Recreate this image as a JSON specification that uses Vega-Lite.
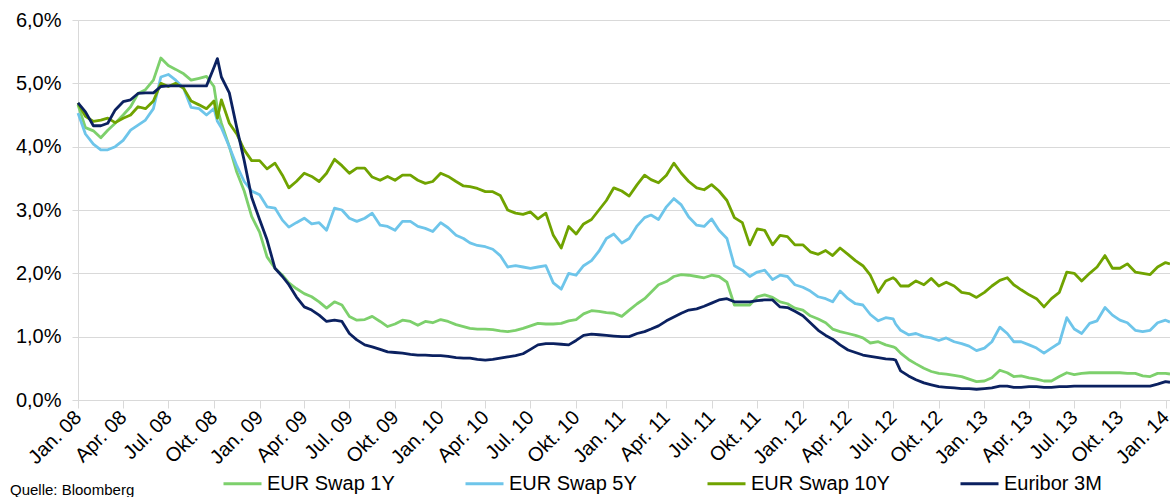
{
"$schema": "https://vega.github.io/schema/vega-lite/v6.json",
"width": 1092, "height": 380,
"autosize": {"type": "none"},
"padding": {"left": 78, "top": 20, "right": 0, "bottom": 97},
"background": "white",
"config": {"view": {"stroke": null}, "font": "Liberation Sans"},
"title": {"text": "Quelle:  Bloomberg", "orient": "bottom", "anchor": "start", "frame": "group", "dx": -68, "dy": -11, "offset": 0, "fontSize": 15, "fontWeight": "normal", "color": "#000000", "font": "Liberation Sans"},
"data": {"values": [
{"d":"2008-01-01","s1":4.66,"s5":4.53,"s10":4.69,"e3":4.69},
{"d":"2008-01-16","s1":4.30,"s5":4.20,"s10":4.48,"e3":4.55},
{"d":"2008-02-01","s1":4.25,"s5":4.04,"s10":4.40,"e3":4.33},
{"d":"2008-02-16","s1":4.14,"s5":3.95,"s10":4.42,"e3":4.33},
{"d":"2008-03-01","s1":4.26,"s5":3.95,"s10":4.45,"e3":4.37},
{"d":"2008-03-16","s1":4.37,"s5":4.00,"s10":4.38,"e3":4.58},
{"d":"2008-04-01","s1":4.50,"s5":4.10,"s10":4.45,"e3":4.71},
{"d":"2008-04-16","s1":4.63,"s5":4.26,"s10":4.50,"e3":4.74},
{"d":"2008-05-01","s1":4.84,"s5":4.34,"s10":4.63,"e3":4.84},
{"d":"2008-05-16","s1":4.90,"s5":4.42,"s10":4.60,"e3":4.85},
{"d":"2008-06-01","s1":5.05,"s5":4.60,"s10":4.72,"e3":4.85},
{"d":"2008-06-16","s1":5.40,"s5":5.10,"s10":5.00,"e3":4.95},
{"d":"2008-07-01","s1":5.28,"s5":5.14,"s10":4.95,"e3":4.96},
{"d":"2008-07-16","s1":5.22,"s5":5.05,"s10":5.00,"e3":4.96},
{"d":"2008-08-01","s1":5.15,"s5":4.92,"s10":4.92,"e3":4.96},
{"d":"2008-08-16","s1":5.05,"s5":4.62,"s10":4.72,"e3":4.96},
{"d":"2008-09-01","s1":5.08,"s5":4.60,"s10":4.66,"e3":4.96},
{"d":"2008-09-16","s1":5.11,"s5":4.50,"s10":4.60,"e3":4.96},
{"d":"2008-10-01","s1":4.95,"s5":4.60,"s10":4.72,"e3":5.25},
{"d":"2008-10-08","s1":4.60,"s5":4.40,"s10":4.45,"e3":5.39},
{"d":"2008-10-16","s1":4.37,"s5":4.30,"s10":4.74,"e3":5.10},
{"d":"2008-11-01","s1":4.00,"s5":4.00,"s10":4.37,"e3":4.85},
{"d":"2008-11-16","s1":3.60,"s5":3.70,"s10":4.20,"e3":4.30},
{"d":"2008-12-01","s1":3.30,"s5":3.45,"s10":3.95,"e3":3.78},
{"d":"2008-12-16","s1":2.90,"s5":3.30,"s10":3.78,"e3":3.20},
{"d":"2009-01-01","s1":2.65,"s5":3.24,"s10":3.78,"e3":2.85},
{"d":"2009-01-16","s1":2.26,"s5":3.05,"s10":3.65,"e3":2.53},
{"d":"2009-02-01","s1":2.08,"s5":3.03,"s10":3.74,"e3":2.08},
{"d":"2009-02-16","s1":1.97,"s5":2.84,"s10":3.55,"e3":1.95},
{"d":"2009-03-01","s1":1.85,"s5":2.73,"s10":3.35,"e3":1.82},
{"d":"2009-03-16","s1":1.76,"s5":2.80,"s10":3.45,"e3":1.63},
{"d":"2009-04-01","s1":1.68,"s5":2.87,"s10":3.58,"e3":1.47},
{"d":"2009-04-16","s1":1.63,"s5":2.78,"s10":3.53,"e3":1.42},
{"d":"2009-05-01","s1":1.55,"s5":2.80,"s10":3.45,"e3":1.34},
{"d":"2009-05-16","s1":1.45,"s5":2.68,"s10":3.58,"e3":1.24},
{"d":"2009-06-01","s1":1.55,"s5":3.03,"s10":3.80,"e3":1.26},
{"d":"2009-06-16","s1":1.50,"s5":3.00,"s10":3.70,"e3":1.24},
{"d":"2009-07-01","s1":1.32,"s5":2.87,"s10":3.58,"e3":1.05},
{"d":"2009-07-16","s1":1.26,"s5":2.82,"s10":3.66,"e3":0.95},
{"d":"2009-08-01","s1":1.27,"s5":2.87,"s10":3.66,"e3":0.87},
{"d":"2009-08-16","s1":1.32,"s5":2.95,"s10":3.52,"e3":0.84},
{"d":"2009-09-01","s1":1.24,"s5":2.76,"s10":3.47,"e3":0.80},
{"d":"2009-09-16","s1":1.16,"s5":2.74,"s10":3.53,"e3":0.76},
{"d":"2009-10-01","s1":1.20,"s5":2.68,"s10":3.47,"e3":0.75},
{"d":"2009-10-16","s1":1.26,"s5":2.82,"s10":3.55,"e3":0.74},
{"d":"2009-11-01","s1":1.24,"s5":2.82,"s10":3.55,"e3":0.72},
{"d":"2009-11-16","s1":1.18,"s5":2.74,"s10":3.47,"e3":0.71},
{"d":"2009-12-01","s1":1.24,"s5":2.71,"s10":3.42,"e3":0.71},
{"d":"2009-12-16","s1":1.22,"s5":2.66,"s10":3.45,"e3":0.70},
{"d":"2010-01-01","s1":1.27,"s5":2.80,"s10":3.58,"e3":0.70},
{"d":"2010-01-16","s1":1.24,"s5":2.72,"s10":3.53,"e3":0.69},
{"d":"2010-02-01","s1":1.19,"s5":2.60,"s10":3.45,"e3":0.67},
{"d":"2010-02-16","s1":1.16,"s5":2.55,"s10":3.38,"e3":0.66},
{"d":"2010-03-01","s1":1.13,"s5":2.48,"s10":3.37,"e3":0.66},
{"d":"2010-03-16","s1":1.12,"s5":2.44,"s10":3.34,"e3":0.64},
{"d":"2010-04-01","s1":1.12,"s5":2.42,"s10":3.29,"e3":0.63},
{"d":"2010-04-16","s1":1.11,"s5":2.38,"s10":3.29,"e3":0.64},
{"d":"2010-05-01","s1":1.09,"s5":2.28,"s10":3.23,"e3":0.66},
{"d":"2010-05-16","s1":1.08,"s5":2.10,"s10":3.00,"e3":0.68},
{"d":"2010-06-01","s1":1.10,"s5":2.12,"s10":2.95,"e3":0.70},
{"d":"2010-06-16","s1":1.13,"s5":2.10,"s10":2.93,"e3":0.73},
{"d":"2010-07-01","s1":1.17,"s5":2.08,"s10":2.97,"e3":0.80},
{"d":"2010-07-16","s1":1.21,"s5":2.10,"s10":2.86,"e3":0.87},
{"d":"2010-08-01","s1":1.20,"s5":2.12,"s10":2.95,"e3":0.89},
{"d":"2010-08-16","s1":1.20,"s5":1.85,"s10":2.60,"e3":0.89},
{"d":"2010-09-01","s1":1.21,"s5":1.75,"s10":2.40,"e3":0.88},
{"d":"2010-09-16","s1":1.25,"s5":2.00,"s10":2.74,"e3":0.87},
{"d":"2010-10-01","s1":1.27,"s5":1.97,"s10":2.62,"e3":0.94},
{"d":"2010-10-16","s1":1.36,"s5":2.12,"s10":2.78,"e3":1.02},
{"d":"2010-11-01","s1":1.41,"s5":2.20,"s10":2.85,"e3":1.04},
{"d":"2010-11-16","s1":1.40,"s5":2.35,"s10":3.00,"e3":1.03},
{"d":"2010-12-01","s1":1.38,"s5":2.55,"s10":3.15,"e3":1.02},
{"d":"2010-12-16","s1":1.37,"s5":2.62,"s10":3.35,"e3":1.01},
{"d":"2011-01-01","s1":1.32,"s5":2.48,"s10":3.30,"e3":1.00},
{"d":"2011-01-16","s1":1.42,"s5":2.55,"s10":3.22,"e3":1.00},
{"d":"2011-02-01","s1":1.52,"s5":2.75,"s10":3.40,"e3":1.05},
{"d":"2011-02-16","s1":1.60,"s5":2.88,"s10":3.55,"e3":1.08},
{"d":"2011-03-01","s1":1.70,"s5":2.92,"s10":3.48,"e3":1.12},
{"d":"2011-03-16","s1":1.82,"s5":2.85,"s10":3.43,"e3":1.17},
{"d":"2011-04-01","s1":1.87,"s5":3.05,"s10":3.55,"e3":1.25},
{"d":"2011-04-16","s1":1.95,"s5":3.18,"s10":3.74,"e3":1.31},
{"d":"2011-05-01","s1":1.98,"s5":3.08,"s10":3.58,"e3":1.37},
{"d":"2011-05-16","s1":1.97,"s5":2.89,"s10":3.45,"e3":1.42},
{"d":"2011-06-01","s1":1.95,"s5":2.76,"s10":3.35,"e3":1.44},
{"d":"2011-06-16","s1":1.93,"s5":2.74,"s10":3.32,"e3":1.48},
{"d":"2011-07-01","s1":1.97,"s5":2.86,"s10":3.40,"e3":1.53},
{"d":"2011-07-16","s1":1.95,"s5":2.68,"s10":3.30,"e3":1.58},
{"d":"2011-08-01","s1":1.86,"s5":2.55,"s10":3.15,"e3":1.60},
{"d":"2011-08-16","s1":1.50,"s5":2.12,"s10":2.88,"e3":1.55},
{"d":"2011-09-01","s1":1.50,"s5":2.05,"s10":2.80,"e3":1.55},
{"d":"2011-09-16","s1":1.50,"s5":1.95,"s10":2.45,"e3":1.55},
{"d":"2011-10-01","s1":1.63,"s5":2.02,"s10":2.70,"e3":1.57},
{"d":"2011-10-16","s1":1.66,"s5":2.05,"s10":2.68,"e3":1.58},
{"d":"2011-11-01","s1":1.62,"s5":1.90,"s10":2.45,"e3":1.58},
{"d":"2011-11-16","s1":1.55,"s5":1.97,"s10":2.60,"e3":1.47},
{"d":"2011-12-01","s1":1.52,"s5":1.95,"s10":2.58,"e3":1.46},
{"d":"2011-12-16","s1":1.45,"s5":1.82,"s10":2.45,"e3":1.40},
{"d":"2012-01-01","s1":1.42,"s5":1.78,"s10":2.45,"e3":1.33},
{"d":"2012-01-16","s1":1.33,"s5":1.72,"s10":2.34,"e3":1.22},
{"d":"2012-02-01","s1":1.28,"s5":1.63,"s10":2.30,"e3":1.10},
{"d":"2012-02-16","s1":1.22,"s5":1.60,"s10":2.36,"e3":1.02},
{"d":"2012-03-01","s1":1.12,"s5":1.55,"s10":2.28,"e3":0.96},
{"d":"2012-03-16","s1":1.08,"s5":1.72,"s10":2.40,"e3":0.87},
{"d":"2012-04-01","s1":1.05,"s5":1.60,"s10":2.30,"e3":0.79},
{"d":"2012-04-16","s1":1.02,"s5":1.52,"s10":2.20,"e3":0.75},
{"d":"2012-05-01","s1":0.98,"s5":1.50,"s10":2.12,"e3":0.71},
{"d":"2012-05-16","s1":0.90,"s5":1.35,"s10":1.97,"e3":0.69},
{"d":"2012-06-01","s1":0.92,"s5":1.25,"s10":1.70,"e3":0.67},
{"d":"2012-06-16","s1":0.87,"s5":1.30,"s10":1.88,"e3":0.65},
{"d":"2012-07-01","s1":0.84,"s5":1.28,"s10":1.93,"e3":0.64},
{"d":"2012-07-06","s1":0.82,"s5":1.20,"s10":1.90,"e3":0.63},
{"d":"2012-07-16","s1":0.74,"s5":1.10,"s10":1.80,"e3":0.46},
{"d":"2012-08-01","s1":0.64,"s5":1.03,"s10":1.80,"e3":0.38},
{"d":"2012-08-16","s1":0.57,"s5":1.05,"s10":1.88,"e3":0.32},
{"d":"2012-09-01","s1":0.50,"s5":1.00,"s10":1.82,"e3":0.27},
{"d":"2012-09-16","s1":0.45,"s5":0.98,"s10":1.92,"e3":0.24},
{"d":"2012-10-01","s1":0.42,"s5":0.94,"s10":1.80,"e3":0.21},
{"d":"2012-10-16","s1":0.41,"s5":0.98,"s10":1.86,"e3":0.20},
{"d":"2012-11-01","s1":0.39,"s5":0.92,"s10":1.80,"e3":0.19},
{"d":"2012-11-16","s1":0.37,"s5":0.89,"s10":1.70,"e3":0.18},
{"d":"2012-12-01","s1":0.33,"s5":0.85,"s10":1.68,"e3":0.18},
{"d":"2012-12-16","s1":0.29,"s5":0.78,"s10":1.62,"e3":0.17},
{"d":"2013-01-01","s1":0.30,"s5":0.82,"s10":1.70,"e3":0.18},
{"d":"2013-01-16","s1":0.35,"s5":0.92,"s10":1.80,"e3":0.19},
{"d":"2013-02-01","s1":0.47,"s5":1.15,"s10":1.89,"e3":0.22},
{"d":"2013-02-16","s1":0.43,"s5":1.05,"s10":1.93,"e3":0.22},
{"d":"2013-03-01","s1":0.37,"s5":0.92,"s10":1.82,"e3":0.20},
{"d":"2013-03-16","s1":0.38,"s5":0.92,"s10":1.74,"e3":0.20},
{"d":"2013-04-01","s1":0.35,"s5":0.87,"s10":1.66,"e3":0.21},
{"d":"2013-04-16","s1":0.33,"s5":0.82,"s10":1.60,"e3":0.21},
{"d":"2013-05-01","s1":0.30,"s5":0.74,"s10":1.47,"e3":0.20},
{"d":"2013-05-16","s1":0.30,"s5":0.82,"s10":1.60,"e3":0.20},
{"d":"2013-06-01","s1":0.37,"s5":0.90,"s10":1.70,"e3":0.21},
{"d":"2013-06-16","s1":0.43,"s5":1.30,"s10":2.02,"e3":0.21},
{"d":"2013-07-01","s1":0.40,"s5":1.12,"s10":2.00,"e3":0.22},
{"d":"2013-07-16","s1":0.42,"s5":1.05,"s10":1.88,"e3":0.22},
{"d":"2013-08-01","s1":0.43,"s5":1.21,"s10":2.00,"e3":0.22},
{"d":"2013-08-16","s1":0.43,"s5":1.25,"s10":2.10,"e3":0.22},
{"d":"2013-09-01","s1":0.43,"s5":1.46,"s10":2.28,"e3":0.22},
{"d":"2013-09-16","s1":0.43,"s5":1.34,"s10":2.08,"e3":0.22},
{"d":"2013-10-01","s1":0.43,"s5":1.26,"s10":2.08,"e3":0.22},
{"d":"2013-10-16","s1":0.42,"s5":1.22,"s10":2.15,"e3":0.22},
{"d":"2013-11-01","s1":0.42,"s5":1.10,"s10":2.02,"e3":0.22},
{"d":"2013-11-16","s1":0.38,"s5":1.08,"s10":2.00,"e3":0.22},
{"d":"2013-12-01","s1":0.37,"s5":1.10,"s10":1.98,"e3":0.22},
{"d":"2013-12-16","s1":0.42,"s5":1.22,"s10":2.10,"e3":0.25},
{"d":"2014-01-01","s1":0.42,"s5":1.26,"s10":2.17,"e3":0.29},
{"d":"2014-01-10","s1":0.41,"s5":1.23,"s10":2.15,"e3":0.28}
]},
"transform": [{"fold": ["s1", "s5", "s10", "e3"], "as": ["serie", "wert"]}],
"mark": {"type": "line", "strokeWidth": 2.8, "strokeJoin": "round"},
"encoding": {
  "x": {"field": "d", "type": "temporal",
    "scale": {"type": "utc", "domain": [{"year": 2008, "month": 1, "date": 1, "utc": true}, {"year": 2014, "month": 1, "date": 10, "utc": true}]},
    "axis": {"title": null, "grid": false, "tickCount": {"interval": "month", "step": 3},
      "labelExpr": "(utcmonth(datum.value) == 0 ? 'Jan.' : utcmonth(datum.value) == 3 ? 'Apr.' : utcmonth(datum.value) == 6 ? 'Jul.' : 'Okt.') + ' ' + utcFormat(datum.value, '%y')",
      "labelAngle": -45, "labelAlign": "right", "labelBaseline": "middle", "labelFontSize": 20, "labelColor": "#000000",
      "labelPadding": 6, "tickSize": 8, "tickColor": "#d9d9d9", "domainColor": "#d9d9d9", "labelOverlap": false, "labelFlush": false}},
  "y": {"field": "wert", "type": "quantitative",
    "scale": {"domain": [0, 6], "nice": false, "zero": true},
    "axis": {"title": null, "values": [0, 1, 2, 3, 4, 5, 6],
      "labelExpr": "replace(format(datum.value / 100, '.1%'), '.', ',')",
      "labelFontSize": 20, "labelColor": "#000000", "labelPadding": 11, "tickSize": 6, "tickColor": "#d9d9d9",
      "domainColor": "#d9d9d9", "gridColor": "#d9d9d9"}},
  "color": {"field": "serie", "type": "nominal",
    "scale": {"domain": ["s1", "s5", "s10", "e3"], "range": ["#7dd06c", "#6ec5ea", "#70a300", "#0b2160"]},
    "legend": {"orient": "none", "legendX": 144, "legendY": 443, "direction": "horizontal", "columns": 4, "title": null,
      "symbolType": "stroke", "symbolSize": 1444, "symbolStrokeWidth": 3, "labelFontSize": 20, "labelColor": "#000000",
      "columnPadding": 64, "labelOffset": 4, "labelLimit": 300,
      "labelExpr": "datum.label == 's1' ? 'EUR Swap 1Y' : datum.label == 's5' ? 'EUR Swap 5Y' : datum.label == 's10' ? 'EUR Swap 10Y' : 'Euribor 3M'"}}
}
}
